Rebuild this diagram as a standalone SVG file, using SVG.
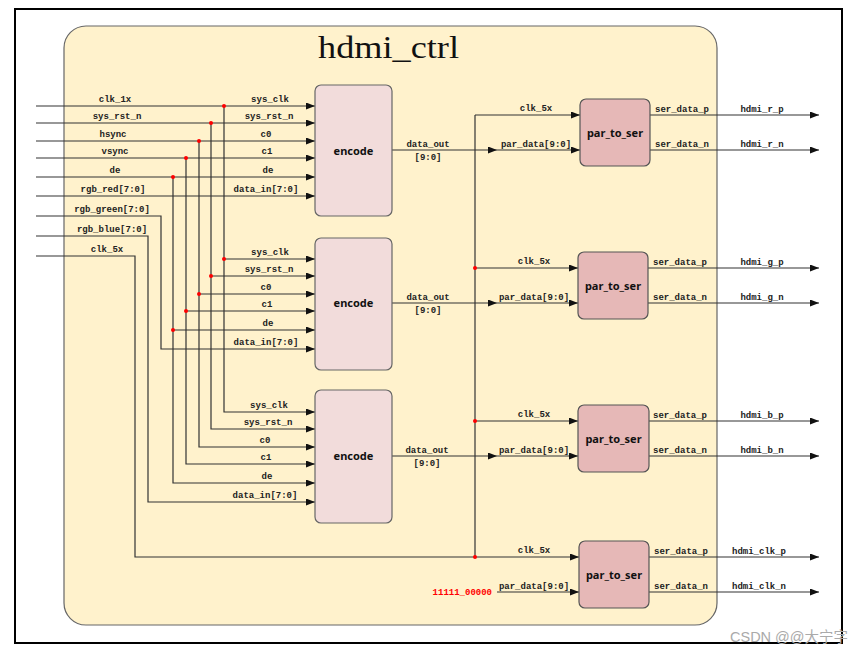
<svg xmlns="http://www.w3.org/2000/svg" width="865" height="655" viewBox="0 0 865 655">
<defs>
<marker id="ar" markerUnits="userSpaceOnUse" markerWidth="9" markerHeight="7" refX="9" refY="3.5" orient="auto">
<path d="M0,0 L9,3.5 L0,7 z" fill="#111"/>
</marker>
<style>
.w{stroke:#333;stroke-width:1.2;fill:none}
.a{marker-end:url(#ar)}
.l{font-family:"Liberation Mono","DejaVu Sans Mono",monospace;font-weight:bold;font-size:9px;fill:#222;text-anchor:middle}
.enc{fill:#F2DCDB;stroke:#666;stroke-width:1.2}
.pts{fill:#E6B8B7;stroke:#555;stroke-width:1.2}
.bt{font-family:"Noto Sans","Liberation Sans",sans-serif;font-weight:bold;font-size:11px;fill:#111;text-anchor:middle}
.d{fill:#f00}
</style>
</defs>
<rect x="0" y="0" width="865" height="655" fill="#fff"/>
<rect x="15" y="9" width="827" height="634" fill="none" stroke="#000" stroke-width="2"/>
<g id="hdmi_ctrl">
<rect x="64" y="26" width="653" height="599" rx="22" fill="#FFF2CC" stroke="#666" stroke-width="1.2"/>
<text x="318" y="58" font-family="Liberation Serif,serif" font-size="31" textLength="141" lengthAdjust="spacingAndGlyphs" fill="#111">hdmi_ctrl</text>
</g>
<g id="connectors">
<path class="w a" d="M36,106 H315"/>
<path class="w a" d="M36,123 H315"/>
<path class="w a" d="M36,141 H315"/>
<path class="w a" d="M36,158 H315"/>
<path class="w a" d="M36,177 H315"/>
<path class="w a" d="M36,196 H315"/>
<path class="w a" d="M36,216 H161 V349 H315"/>
<path class="w a" d="M36,236 H148 V502 H315"/>
<path class="w a" d="M36,256 H135 V557 H579"/>
<path class="w a" d="M224,106 V412 H315"/>
<path class="w a" d="M211,123 V429 H315"/>
<path class="w a" d="M199,141 V447 H315"/>
<path class="w a" d="M186,158 V464 H315"/>
<path class="w a" d="M173,177 V483 H315"/>
<path class="w a" d="M224,259 H315"/>
<path class="w a" d="M211,276 H315"/>
<path class="w a" d="M199,294 H315"/>
<path class="w a" d="M186,311 H315"/>
<path class="w a" d="M173,330 H315"/>
<path class="w a" d="M392,150 H497"/><path class="w a" d="M497,150 H580"/>
<path class="w a" d="M392,303 H497"/><path class="w a" d="M497,303 H578"/>
<path class="w a" d="M392,456 H497"/><path class="w a" d="M497,456 H578"/>
<path class="w a" d="M497,592 H579"/>
<path class="w" d="M475,557 V115"/>
<path class="w a" d="M475,115 H580"/>
<path class="w a" d="M475,268 H578"/>
<path class="w a" d="M475,421 H578"/>
<path class="w a" d="M650,115 H819"/>
<path class="w a" d="M650,150 H819"/>
<path class="w a" d="M648,268 H819"/>
<path class="w a" d="M648,303 H819"/>
<path class="w a" d="M649,421 H819"/>
<path class="w a" d="M649,456 H819"/>
<path class="w a" d="M649,557 H819"/>
<path class="w a" d="M649,592 H819"/>
<circle class="d" cx="224" cy="106" r="2"/>
<circle class="d" cx="211" cy="123" r="2"/>
<circle class="d" cx="199" cy="141" r="2"/>
<circle class="d" cx="186" cy="158" r="2"/>
<circle class="d" cx="173" cy="177" r="2"/>
<circle class="d" cx="224" cy="259" r="2"/>
<circle class="d" cx="211" cy="276" r="2"/>
<circle class="d" cx="199" cy="294" r="2"/>
<circle class="d" cx="186" cy="311" r="2"/>
<circle class="d" cx="173" cy="330" r="2"/>
<circle class="d" cx="475" cy="268" r="2"/>
<circle class="d" cx="475" cy="421" r="2"/>
<circle class="d" cx="475" cy="557" r="2"/>
<text class="l" x="115" y="102">clk_1x</text>
<text class="l" x="117" y="119">sys_rst_n</text>
<text class="l" x="113" y="137">hsync</text>
<text class="l" x="115" y="154">vsync</text>
<text class="l" x="115" y="173">de</text>
<text class="l" x="113" y="192">rgb_red[7:0]</text>
<text class="l" x="112" y="212">rgb_green[7:0]</text>
<text class="l" x="112" y="232">rgb_blue[7:0]</text>
<text class="l" x="107" y="252">clk_5x</text>
<text class="l" x="270" y="102">sys_clk</text>
<text class="l" x="269" y="119">sys_rst_n</text>
<text class="l" x="266" y="137">c0</text>
<text class="l" x="267" y="154">c1</text>
<text class="l" x="268" y="173">de</text>
<text class="l" x="266" y="192">data_in[7:0]</text>
<text class="l" x="270" y="255">sys_clk</text>
<text class="l" x="269" y="272">sys_rst_n</text>
<text class="l" x="266" y="290">c0</text>
<text class="l" x="267" y="307">c1</text>
<text class="l" x="268" y="326">de</text>
<text class="l" x="266" y="345">data_in[7:0]</text>
<text class="l" x="269" y="408">sys_clk</text>
<text class="l" x="268" y="425">sys_rst_n</text>
<text class="l" x="265" y="443">c0</text>
<text class="l" x="266" y="460">c1</text>
<text class="l" x="267" y="479">de</text>
<text class="l" x="265" y="498">data_in[7:0]</text>
<text class="l" x="428" y="147">data_out</text>
<text class="l" x="428" y="160">[9:0]</text>
<text class="l" x="428" y="300">data_out</text>
<text class="l" x="428" y="313">[9:0]</text>
<text class="l" x="427" y="453">data_out</text>
<text class="l" x="427" y="466">[9:0]</text>
<text class="l" x="536" y="111">clk_5x</text>
<text class="l" x="536" y="147">par_data[9:0]</text>
<text class="l" x="534" y="264">clk_5x</text>
<text class="l" x="534" y="300">par_data[9:0]</text>
<text class="l" x="534" y="417">clk_5x</text>
<text class="l" x="534" y="453">par_data[9:0]</text>
<text class="l" x="534" y="553">clk_5x</text>
<text class="l" x="534" y="589">par_data[9:0]</text>
<text class="l" x="492" y="595" style="text-anchor:end;fill:#f00">11111_00000</text>
<text class="l" x="682" y="112">ser_data_p</text>
<text class="l" x="682" y="147">ser_data_n</text>
<text class="l" x="762" y="112">hdmi_r_p</text>
<text class="l" x="762" y="147">hdmi_r_n</text>
<text class="l" x="680" y="265">ser_data_p</text>
<text class="l" x="680" y="300">ser_data_n</text>
<text class="l" x="762" y="265">hdmi_g_p</text>
<text class="l" x="762" y="300">hdmi_g_n</text>
<text class="l" x="680" y="418">ser_data_p</text>
<text class="l" x="680" y="453">ser_data_n</text>
<text class="l" x="762" y="418">hdmi_b_p</text>
<text class="l" x="762" y="453">hdmi_b_n</text>
<text class="l" x="681" y="554">ser_data_p</text>
<text class="l" x="681" y="589">ser_data_n</text>
<text class="l" x="759" y="554">hdmi_clk_p</text>
<text class="l" x="759" y="589">hdmi_clk_n</text>
</g>
<g id="encode1"><rect class="enc" x="315" y="85" width="77" height="131" rx="6"/><text class="bt" x="353.5" y="155">encode</text></g>
<g id="encode2"><rect class="enc" x="315" y="238" width="77" height="132" rx="6"/><text class="bt" x="353.5" y="307">encode</text></g>
<g id="encode3"><rect class="enc" x="315" y="390" width="77" height="133" rx="6"/><text class="bt" x="353.5" y="460">encode</text></g>
<g id="par_to_ser1"><rect class="pts" x="580" y="99" width="70" height="67" rx="6"/><text class="bt" x="615" y="137">par_to_ser</text></g>
<g id="par_to_ser2"><rect class="pts" x="578" y="252" width="70" height="67" rx="6"/><text class="bt" x="613" y="290">par_to_ser</text></g>
<g id="par_to_ser3"><rect class="pts" x="578" y="405" width="71" height="67" rx="6"/><text class="bt" x="613.5" y="443">par_to_ser</text></g>
<g id="par_to_ser4"><rect class="pts" x="579" y="541" width="70" height="67" rx="6"/><text class="bt" x="614" y="579">par_to_ser</text></g>
<text x="730" y="642" font-family="Liberation Sans,Noto Sans CJK SC,sans-serif" font-size="14.5" fill="#aaa">CSDN @@大宁字</text>
</svg>
